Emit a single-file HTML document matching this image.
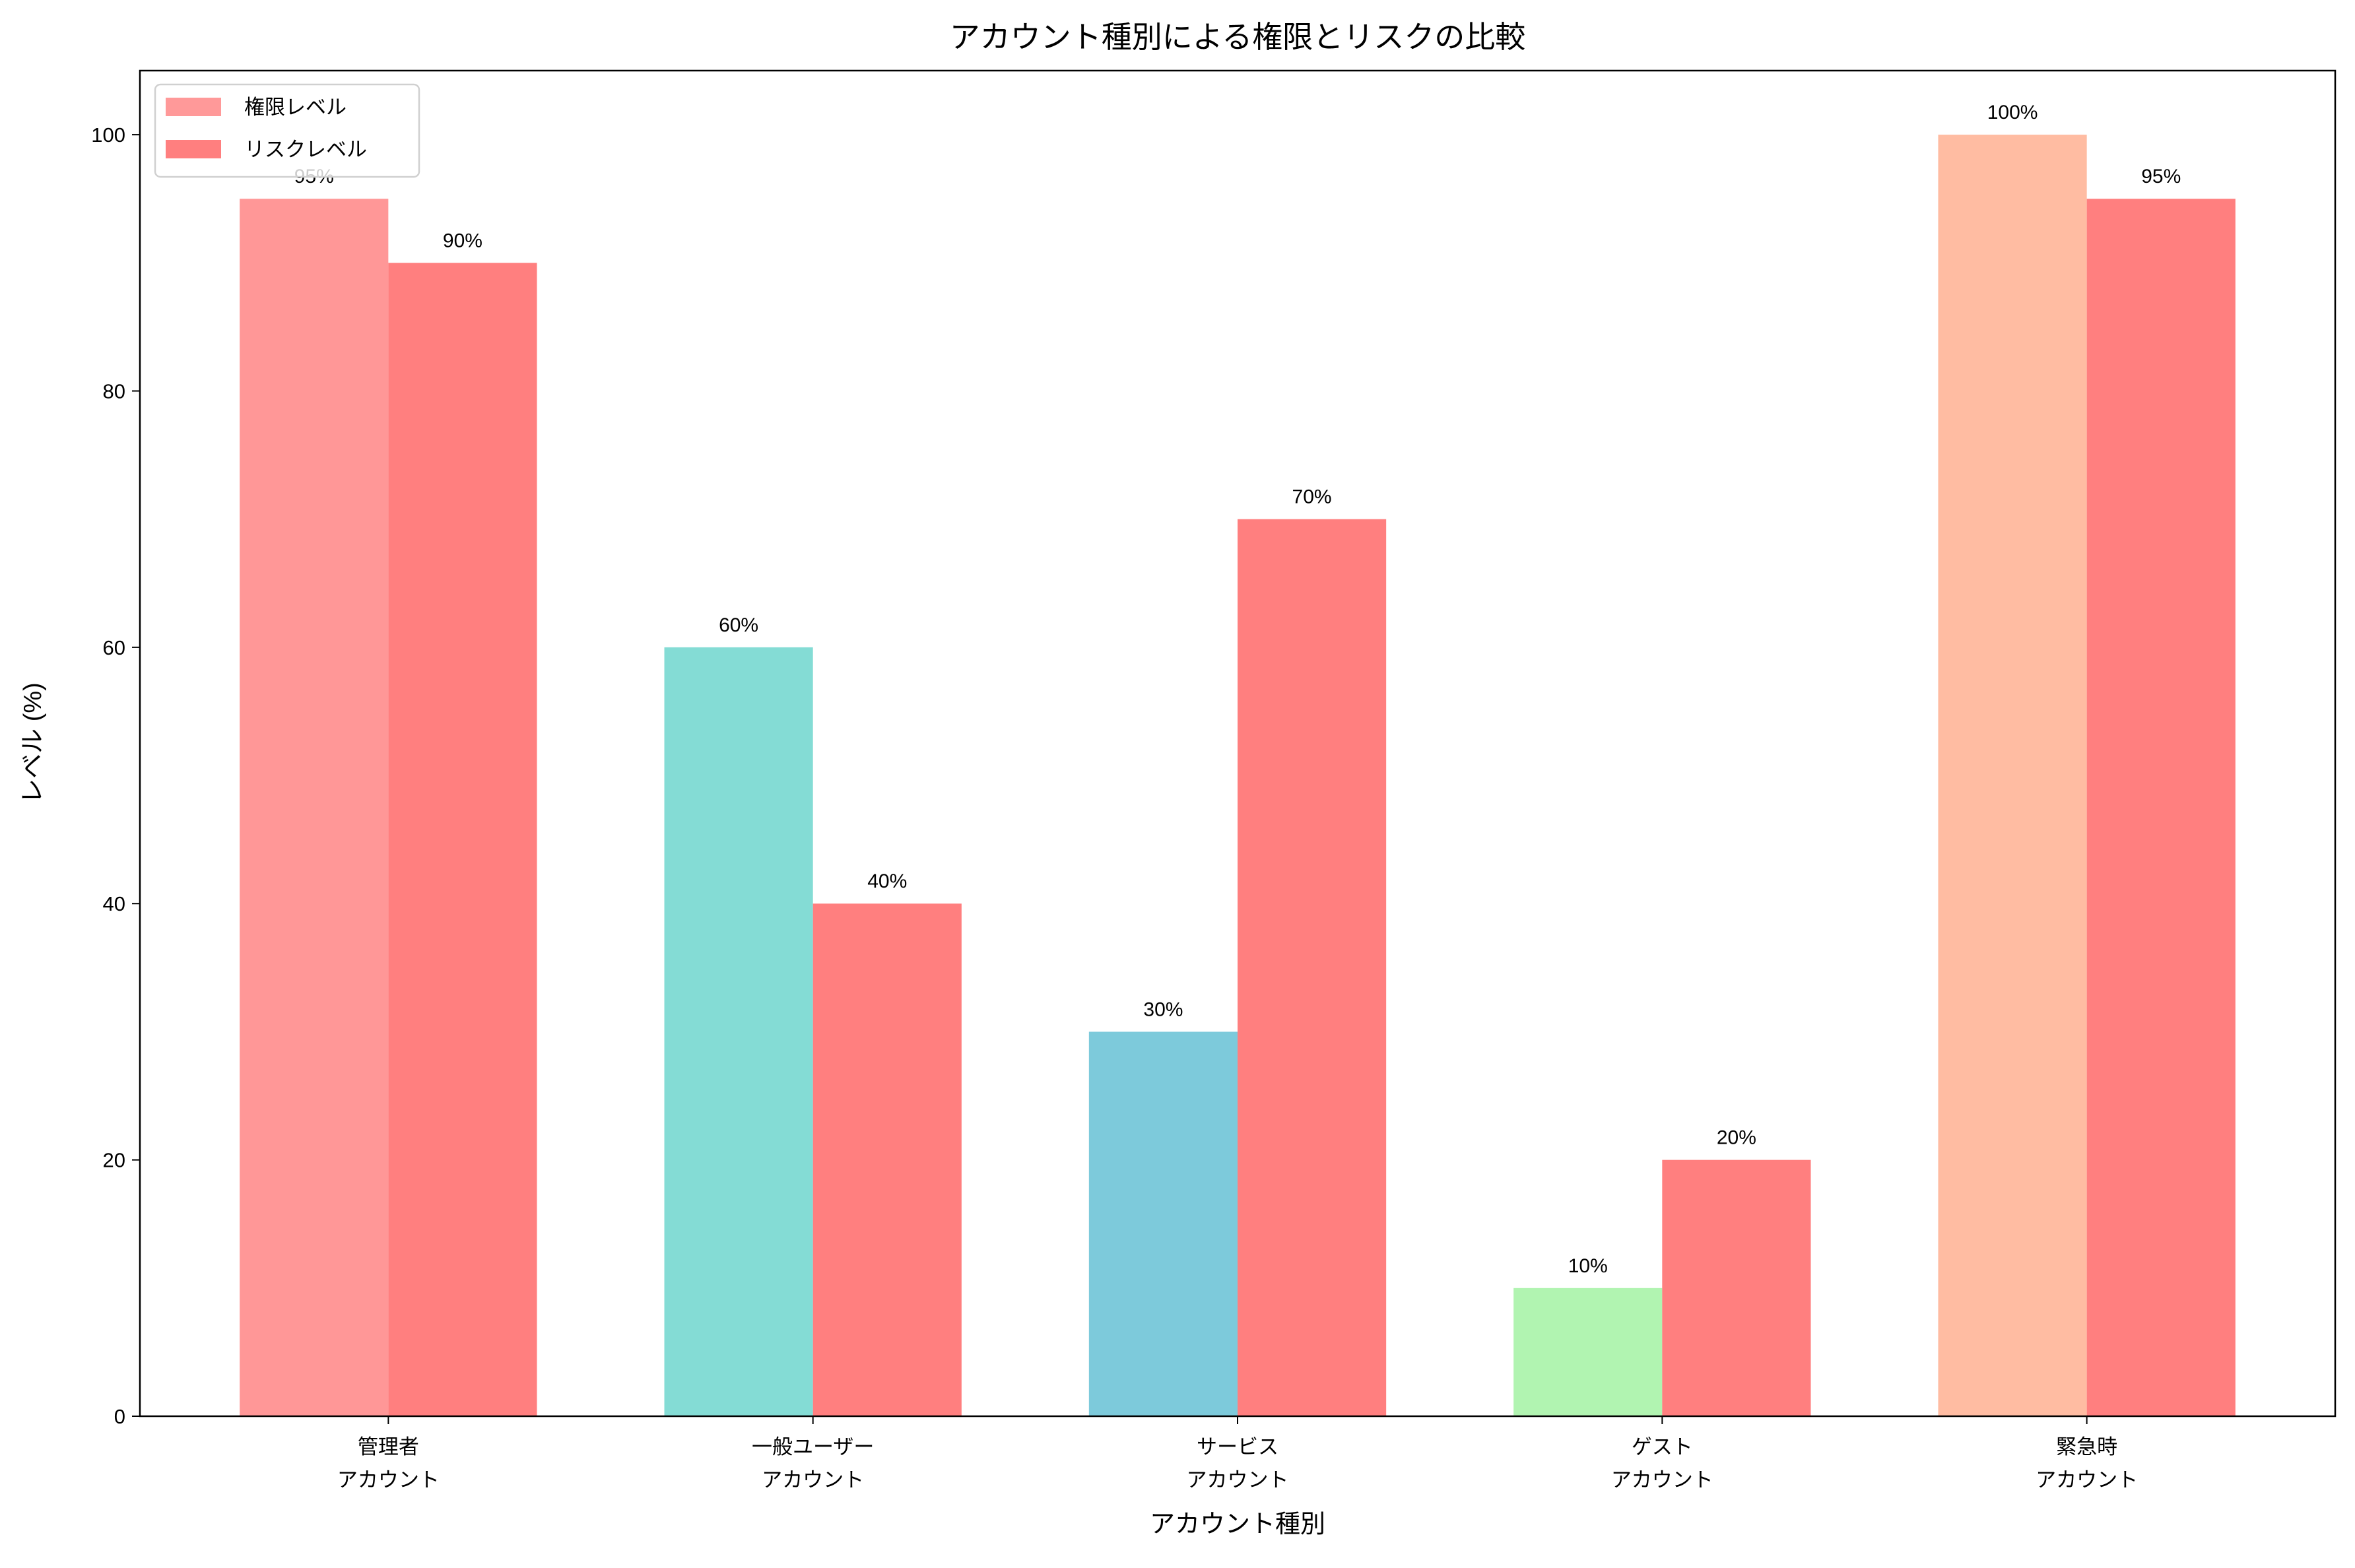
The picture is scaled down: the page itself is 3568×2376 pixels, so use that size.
<!DOCTYPE html>
<html><head><meta charset="utf-8"><style>
html,body{margin:0;padding:0;background:#fff;}
svg{display:block;font-family:"Liberation Sans","DejaVu Sans","Noto Sans CJK JP",sans-serif;}
</style></head><body>
<svg id="chart" width="3568" height="2376" viewBox="0 0 3568 2376" xmlns="http://www.w3.org/2000/svg">
<rect width="3568" height="2376" fill="#fff"/>
<text x="1875" y="72" font-size="46" text-anchor="middle" fill="#000">アカウント種別による権限とリスクの比較</text>
<g id="plot"></g>
<text x="1875" y="2322" font-size="38" text-anchor="middle">アカウント種別</text>
<text transform="translate(62,1126) rotate(-90)" font-size="38" text-anchor="middle">レベル (%)</text>
</svg>
<script>
const categories = ["管理者\nアカウント","一般ユーザー\nアカウント","サービス\nアカウント","ゲスト\nアカウント","緊急時\nアカウント"];
const privilegeValues = [95, 60, 30, 10, 100];
const riskValues = [90, 40, 70, 20, 95];
const yTicks = [0, 20, 40, 60, 80, 100];
const privColors = ["#FF9797","#84DCD5","#7DCADB","#B1F4B1","#FFBCA2"];
const riskColor = "#FF7F7F";

const L=212, R=3538, T=107, B=2146;
const xMin=-0.585, xMax=4.585, yMax=105;
const xs = v => L + (v - xMin) / (xMax - xMin) * (R - L);
const ys = v => B - v / yMax * (B - T);
const barW = 0.35;
const NS="http://www.w3.org/2000/svg";
const g=document.getElementById('plot');
function mk(tag, attrs){const e=document.createElementNS(NS,tag);for(const k in attrs)e.setAttribute(k,attrs[k]);return e;}

const labels=[];
categories.forEach((c,i)=>{
  const pv=privilegeValues[i], rv=riskValues[i];
  const b1=mk('rect',{x:xs(i-barW),y:ys(pv),width:xs(i)-xs(i-barW),height:ys(0)-ys(pv),fill:privColors[i]});
  
  
  g.appendChild(b1);
  const b2=mk('rect',{x:xs(i),y:ys(rv),width:xs(i+barW)-xs(i),height:ys(0)-ys(rv),fill:riskColor});
  
  
  g.appendChild(b2);
  const t1=mk('text',{x:xs(i-barW/2),y:ys(pv)-24,'font-size':30,'text-anchor':'middle'});
  t1.textContent=pv+'%';
  
  
  labels.push(t1);
  const t2=mk('text',{x:xs(i+barW/2),y:ys(rv)-24,'font-size':30,'text-anchor':'middle'});
  t2.textContent=rv+'%';
  
  
  labels.push(t2);
  // x tick
  const tk=mk('line',{x1:xs(i),x2:xs(i),y1:B,y2:B+12,stroke:'#000','stroke-width':2});
  
  
  g.appendChild(tk);
  const parts=c.split('\n');
  parts.forEach((p,j)=>{
    const tl=mk('text',{x:xs(i),y:2203+j*50,'font-size':31,'text-anchor':'middle'});
    tl.textContent=p;
    
    
    g.appendChild(tl);
  });
});
labels.forEach(l=>g.appendChild(l));

yTicks.forEach(v=>{
  const tk=mk('line',{x1:L-12,x2:L,y1:ys(v),y2:ys(v),stroke:'#000','stroke-width':2});
  
  
  g.appendChild(tk);
  const tl=mk('text',{x:L-22,y:ys(v)+11,'font-size':31,'text-anchor':'end'});
  tl.textContent=v;
  
  
  g.appendChild(tl);
});

const frame=mk('rect',{x:L,y:T,width:R-L,height:B-T,fill:'none',stroke:'#000','stroke-width':2.5});


g.appendChild(frame);

// legend
const lg=mk('g',{});


const lbox=mk('rect',{x:235,y:128,width:400,height:140,rx:8,fill:'rgba(255,255,255,0.8)',stroke:'#d0d0d0','stroke-width':2.5});


lg.appendChild(lbox);
const entries=[["権限レベル","#FF9999"],["リスクレベル",riskColor]];
entries.forEach((e,j)=>{
  const sw=mk('rect',{x:251,y:148+j*64,width:84,height:28,fill:e[1]});
  
  
  lg.appendChild(sw);
  const tx=mk('text',{x:370,y:173+j*64,'font-size':31});
  tx.textContent=e[0];
  
  
  lg.appendChild(tx);
});
g.appendChild(lg);
</script>
</body></html>
